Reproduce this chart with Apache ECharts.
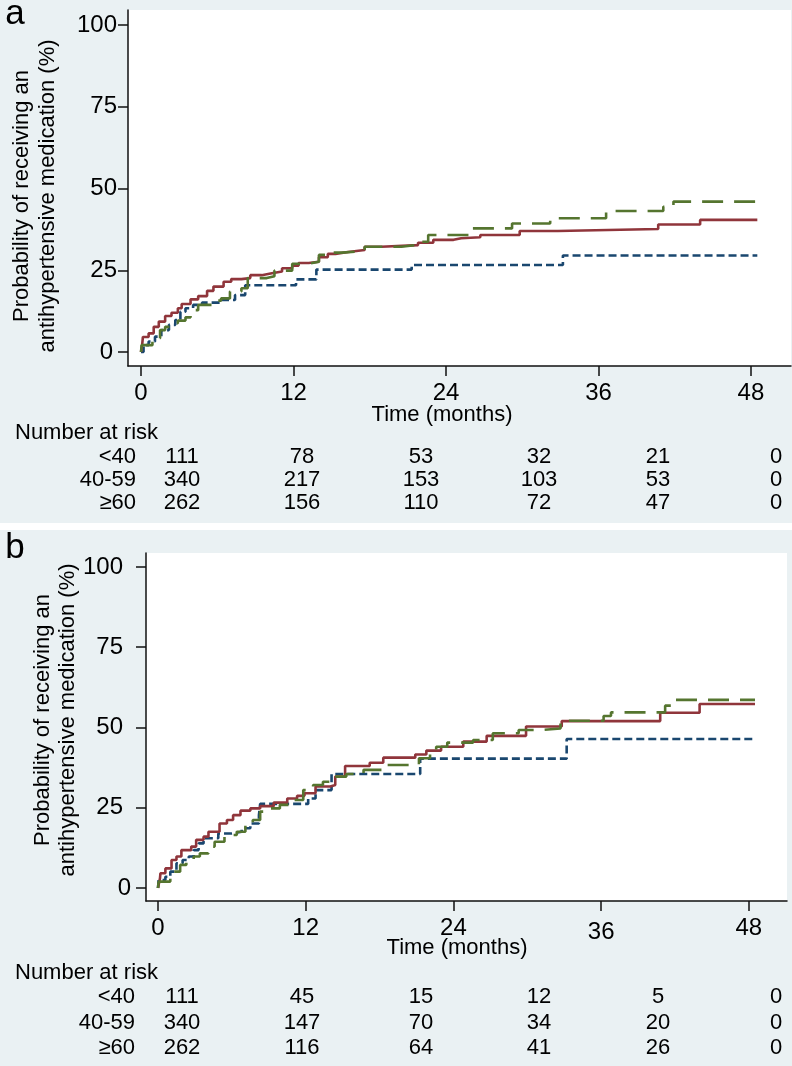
<!DOCTYPE html>
<html>
<head>
<meta charset="utf-8">
<title>Probability of receiving an antihypertensive medication</title>
<script src="https://cdn.jsdelivr.net/npm/echarts@6/dist/echarts.min.js"></script>
<style>
html, body { margin: 0; padding: 0; background: #fff; }
#chart { width: 792px; height: 1066px; }
</style>
</head>
<body>
<div id="chart"></div>
<script>
// axis ticks
var timeTicks = [0, 12, 24, 36, 48];
var probTicks = [0, 25, 50, 75, 100];
var groups = ['<40', '40-59', '≥60'];

// panel a curves: [months, %]
var aLt40 = [[0,0],[0.2,2.1],[0.6,3.2],[1.1,4.7],[1.6,6.7],[2.2,8.3],[2.7,9.8],[3.1,12.3],[3.5,13.4],[4.1,14.4],[4.8,15.1],[6.3,15.9],[7.4,17.4],[8.2,20.4],[12.2,22.2],[13.8,25.2],[21.3,26.6],[33.2,29.5],[48.5,29.5]];
var a4059 = [[0,0],[0.1,2.6],[0.15,4.6],[0.6,5.7],[1.0,7.7],[1.4,9.3],[1.9,11.0],[2.4,12.0],[2.9,13.4],[3.2,14.7],[3.9,16.1],[4.5,17.1],[5.2,18.7],[5.7,20.0],[6.5,21.5],[7.1,22.3],[7.9,22.6],[8.6,23.5],[9.5,24.1],[10.3,24.6],[11.1,25.6],[11.9,26.4],[12.4,27.2],[13.2,27.6],[14.0,29.0],[14.7,30.0],[15.3,30.6],[16.3,31.2],[17.6,32.2],[18.9,32.7],[21.8,33.4],[23.0,34.3],[24.6,34.8],[25.2,35.1],[26.7,35.8],[29.8,37.0],[32.8,37.6],[40.7,39.0],[44.0,40.4],[48.5,40.4]];
var aGe60 = [[0,0],[0.05,2.1],[0.9,3.2],[1.1,4.2],[1.5,6.7],[1.9,7.7],[2.4,8.8],[2.9,9.6],[3.5,10.6],[3.9,12.8],[4.5,14.4],[5.6,15.7],[6.3,16.4],[7.0,18.5],[7.9,19.5],[8.4,22.6],[9.9,23.2],[10.5,24.9],[11.9,27.0],[13.2,27.6],[14.0,29.7],[14.7,30.4],[15.8,30.9],[17.6,32.2],[20.5,32.8],[21.9,33.7],[22.6,35.8],[25.9,37.8],[29.2,39.3],[32.2,40.9],[36.6,43.1],[41.1,44.4],[41.9,46.0],[48.5,46.0]];

// panel b curves: [months, %]
var bLt40 = [[0,0],[0.05,2.5],[0.6,3.5],[1.0,5.1],[1.5,7.7],[2.0,8.7],[2.5,9.8],[2.9,11.8],[3.3,13.9],[3.7,15.5],[4.9,17.0],[6.0,17.5],[6.8,18.6],[7.5,20.1],[8.2,22.7],[8.3,26.2],[12.2,27.9],[12.8,30.5],[14.1,35.5],[21.3,40.3],[33.2,46.4],[48.5,46.4]];
var b4059 = [[0,0],[0.16,3.0],[0.2,4.6],[0.6,6.1],[1.1,8.7],[1.5,9.8],[1.9,11.8],[2.7,12.9],[3.1,15.0],[3.7,16.0],[4.1,17.5],[5.0,20.1],[5.6,21.2],[6.1,22.7],[6.7,24.1],[7.5,24.8],[8.3,25.5],[9.4,26.6],[10.5,27.9],[11.3,28.7],[11.9,29.5],[12.8,31.6],[14.0,32.1],[14.4,34.7],[15.2,38.0],[17.2,39.0],[18.3,40.6],[20.9,41.6],[21.8,42.8],[23.0,44.0],[24.8,45.6],[26.7,47.4],[29.9,50.3],[32.8,52.0],[40.8,54.6],[44.0,57.3],[48.5,57.3]];
var bGe60 = [[0,0],[0.05,2.0],[1.0,3.5],[1.2,5.1],[1.8,7.2],[2.3,8.2],[2.9,9.8],[3.4,10.8],[4.1,12.9],[4.6,14.4],[5.4,16.5],[6.4,17.5],[7.1,19.6],[7.7,21.2],[8.3,23.8],[8.6,24.8],[9.9,25.9],[11.0,27.4],[11.8,30.5],[12.6,32.1],[13.4,33.1],[14.2,34.7],[15.3,35.5],[16.7,36.8],[18.3,38.3],[21.2,40.4],[22.1,42.5],[22.6,44.0],[23.5,45.3],[25.6,46.1],[27.2,48.2],[29.3,49.2],[31.0,49.7],[32.7,52.1],[36.2,53.6],[36.8,54.7],[41.2,56.8],[41.9,58.6],[48.5,58.6]];

// number at risk
var riskA_lt40 = [111, 78, 53, 32, 21, 0];
var riskA_4059 = [340, 217, 153, 103, 53, 0];
var riskA_ge60 = [262, 156, 110, 72, 47, 0];
var riskB_lt40 = [111, 45, 15, 12, 5, 0];
var riskB_4059 = [340, 147, 70, 34, 20, 0];
var riskB_ge60 = [262, 116, 64, 41, 26, 0];

var FONT = '"Liberation Sans", Arial, sans-serif';
var BG = '#eaf1f3';
var colNavy = '#1a476f', colMaroon = '#90353b', colGreen = '#55752f';
var colX = [182, 302, 421, 539, 658, 776];

var myChart = echarts.init(document.getElementById('chart'));

function txt(s, x, y, size, align, rot) {
	return {
		type: 'text', x: x, y: y, rotation: rot || 0, z: 10,
		style: {
			text: s, fill: '#000', font: size + 'px ' + FONT,
			align: align || 'center', verticalAlign: 'middle'
		}
	};
}

function riskTable(top, rowGap, labelRight, rows) {
	var els = [txt('Number at risk', 15, top, 22, 'left')];
	for (var r = 0; r < rows.length; r++) {
		var y = top + rowGap[r];
		els.push(txt(groups[r], labelRight, y, 22, 'right'));
		for (var c = 0; c < rows[r].length; c++) {
			els.push(txt(String(rows[r][c]), colX[c], y, 22, 'center'));
		}
	}
	return els;
}

function xAxisOpt(idx, min, max) {
	return {
		type: 'value', gridIndex: idx, min: min, max: max,
		axisLine: { show: true, onZero: false, lineStyle: { color: '#111', width: 1.5 } },
		axisTick: { show: true, customValues: timeTicks, length: 10, lineStyle: { color: '#111', width: 1.5 } },
		axisLabel: {
			customValues: timeTicks, margin: 15, color: '#000', fontSize: 24, fontFamily: FONT,
			formatter: function (v) { return (idx === 1 && v === 36) ? '{d|36}' : '{n|' + v + '}'; },
			rich: {
				n: { fontSize: 24, fontFamily: FONT, color: '#000' },
				d: { fontSize: 24, fontFamily: FONT, color: '#000', padding: [4, 0, 0, 0] }
			}
		},
		splitLine: { show: false }
	};
}

function yAxisOpt(idx, min, max, margin) {
	return {
		type: 'value', gridIndex: idx, min: min, max: max,
		axisLine: { show: true, onZero: false, lineStyle: { color: '#111', width: 1.5 } },
		axisTick: { show: true, customValues: probTicks, length: 10, lineStyle: { color: '#111', width: 1.5 } },
		axisLabel: {
			customValues: probTicks, margin: margin, color: '#000', fontSize: 24, fontFamily: FONT,
			formatter: function (v) {
				if (idx === 0) return v === 0 ? '{z|0}' : '{n|' + v + '}';
				return v === 0 ? '{n|0}' : '{z|' + v + '}';
			},
			rich: {
				n: { fontSize: 24, fontFamily: FONT, color: '#000' },
				z: { fontSize: 24, fontFamily: FONT, color: '#000', padding: [0, idx === 0 ? 4 : 8, 0, 0] }
			}
		},
		splitLine: { show: false }
	};
}

function curve(name, data, gi, color, dash) {
	return {
		name: name, type: 'line', step: 'end', xAxisIndex: gi, yAxisIndex: gi,
		showSymbol: false, symbol: 'none', data: data, z: 3,
		lineStyle: { color: color, width: 2.6, type: dash || 'solid' }
	};
}

var graphics = [
	{ type: 'rect', z: -100, shape: { x: 0, y: 0, width: 792, height: 523 }, style: { fill: BG } },
	{ type: 'rect', z: -100, shape: { x: 0, y: 530, width: 792, height: 536 }, style: { fill: BG } },
	txt('a', 15, 14, 35, 'center'),
	txt('b', 15, 548, 35, 'center'),
	txt('Probability of receiving an', 22, 196, 22, 'center', Math.PI / 2),
	txt('antihypertensive medication (%)', 48, 196, 22, 'center', Math.PI / 2),
	txt('Probability of receiving an', 43, 720, 22, 'center', Math.PI / 2),
	txt('antihypertensive medication (%)', 68, 720, 22, 'center', Math.PI / 2),
	txt('Time (months)', 442, 415, 22, 'center'),
	txt('Time (months)', 457, 948, 22, 'center')
];
graphics = graphics
	.concat(riskTable(433, [24, 47, 70], 136, [riskA_lt40, riskA_4059, riskA_ge60]))
	.concat(riskTable(973, [24, 50, 75], 135, [riskB_lt40, riskB_4059, riskB_ge60]));

var option = {
	animation: false,
	backgroundColor: 'transparent',
	textStyle: { fontFamily: FONT },
	grid: [
		{ left: 128, top: 10, width: 663, height: 356, show: true, backgroundColor: '#fff', borderWidth: 0, containLabel: false, outerBoundsMode: 'none' },
		{ left: 146, top: 553, width: 641, height: 348, show: true, backgroundColor: '#fff', borderWidth: 0, containLabel: false, outerBoundsMode: 'none' }
	],
	xAxis: [xAxisOpt(0, -1.023, 51.15), xAxisOpt(1, -0.975, 51.1)],
	yAxis: [yAxisOpt(0, -4.28, 104.59, 11), yAxisOpt(1, -4.05, 104.36, 15)],
	graphic: { elements: graphics },
	series: [
		curve(groups[0], aLt40, 0, colNavy, [8, 4]),
		curve(groups[1], a4059, 0, colMaroon),
		curve(groups[2], aGe60, 0, colGreen, [21, 11]),
		curve(groups[0], bLt40, 1, colNavy, [8, 4]),
		curve(groups[1], b4059, 1, colMaroon),
		curve(groups[2], bGe60, 1, colGreen, [21, 11])
	]
};
myChart.setOption(option);
</script>
</body>
</html>
